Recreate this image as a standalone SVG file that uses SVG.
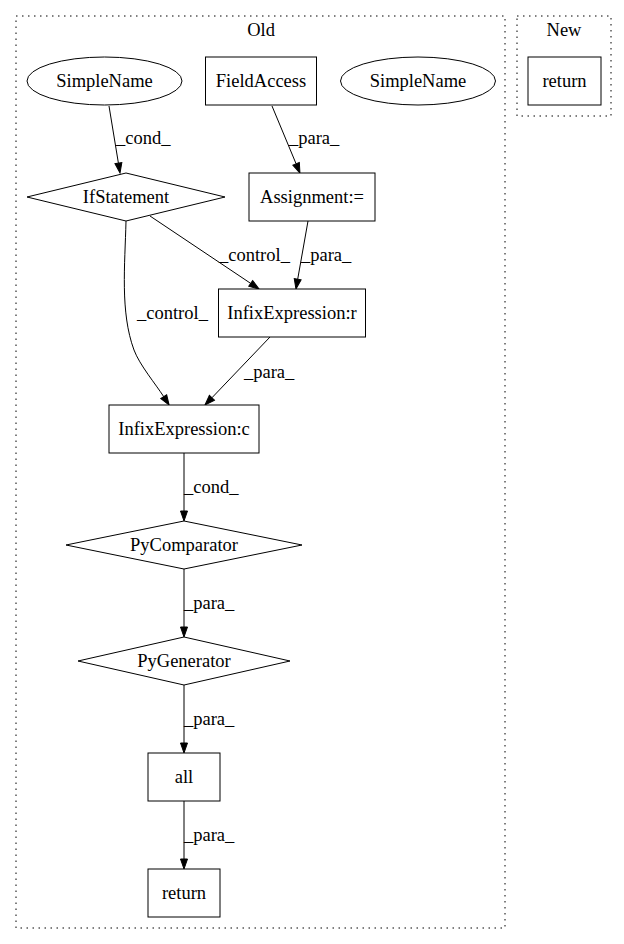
<svg xmlns="http://www.w3.org/2000/svg" width="624" height="944" viewBox="0 0 624 944">
<style>
text{font-family:"Liberation Serif","Times New Roman",serif;font-size:18.5px;fill:#000}
.n{text-anchor:middle}
.shape{fill:#fff;stroke:#000;stroke-width:1}
.cl{fill:none;stroke:#000;stroke-width:1;stroke-dasharray:1.5,4.5}
.e{fill:none;stroke:#000;stroke-width:1}
</style>
<defs>
<marker id="ah" markerUnits="userSpaceOnUse" markerWidth="11" markerHeight="8" refX="0" refY="3.5" orient="auto" overflow="visible">
<path d="M0,0 L10,3.5 L0,7 z" fill="#000" stroke="#000" stroke-width="1"/>
</marker>
</defs>
<rect width="624" height="944" fill="#fff"/>
<g font-family="Liberation Serif, Times New Roman, serif" font-size="18.5">
<g id="cluster_old">
<rect class="cl" x="16" y="16" width="489" height="912"/>
<text class="n" x="261" y="36">Old</text>
</g>
<g id="cluster_new">
<rect class="cl" x="517" y="16" width="94" height="100"/>
<text class="n" x="564" y="36">New</text>
</g>
<g id="connectors">
<path class="e" d="M109,106 L118.4,163.1" marker-end="url(#ah)"/>
<text x="116" y="144">_cond_</text>
<path class="e" d="M272,106 L296.1,163.8" marker-end="url(#ah)"/>
<text x="289" y="144">_para_</text>
<path class="e" d="M150,216 L250.7,283.4" marker-end="url(#ah)"/>
<text x="219" y="261">_control_</text>
<path class="e" d="M308,221 L297.7,279.2" marker-end="url(#ah)"/>
<text x="301" y="261">_para_</text>
<path class="e" d="M126,221 C125,265 120,312 134,350 C139.6,365 155.6,384 163.7,396.6" marker-end="url(#ah)"/>
<text x="137" y="319">_control_</text>
<path class="e" d="M270,337 L211.9,397.8" marker-end="url(#ah)"/>
<text x="244" y="378">_para_</text>
<path class="e" d="M184,453 L184,511" marker-end="url(#ah)"/>
<text x="184" y="493">_cond_</text>
<path class="e" d="M184,569 L184,627" marker-end="url(#ah)"/>
<text x="184" y="609">_para_</text>
<path class="e" d="M184,685 L184,743" marker-end="url(#ah)"/>
<text x="184" y="725">_para_</text>
<path class="e" d="M184,801 L184,859" marker-end="url(#ah)"/>
<text x="184" y="841">_para_</text>
</g>
<g id="SimpleName1">
<ellipse class="shape" cx="104.5" cy="81" rx="77.5" ry="24"/>
<text class="n" x="104.5" y="87">SimpleName</text>
</g>
<g id="FieldAccess">
<rect class="shape" x="205.5" y="57" width="111" height="48"/>
<text class="n" x="261" y="87">FieldAccess</text>
</g>
<g id="SimpleName2">
<ellipse class="shape" cx="418" cy="81" rx="77.5" ry="24"/>
<text class="n" x="418" y="87">SimpleName</text>
</g>
<g id="return_new">
<rect class="shape" x="528" y="57" width="73" height="48"/>
<text class="n" x="564.5" y="87">return</text>
</g>
<g id="IfStatement">
<polygon class="shape" points="126,173 225,197 126,221 27,197"/>
<text class="n" x="126" y="203">IfStatement</text>
</g>
<g id="Assignment">
<rect class="shape" x="249" y="173" width="126" height="48"/>
<text class="n" x="312" y="203">Assignment:=</text>
</g>
<g id="InfixExpressionR">
<rect class="shape" x="218.5" y="289" width="147" height="48"/>
<text class="n" x="292" y="319">InfixExpression:r</text>
</g>
<g id="InfixExpressionC">
<rect class="shape" x="109" y="405" width="150" height="48"/>
<text class="n" x="184" y="435">InfixExpression:c</text>
</g>
<g id="PyComparator">
<polygon class="shape" points="184,521 302,545 184,569 66,545"/>
<text class="n" x="184" y="551">PyComparator</text>
</g>
<g id="PyGenerator">
<polygon class="shape" points="184,637 290,661 184,685 78,661"/>
<text class="n" x="184" y="667">PyGenerator</text>
</g>
<g id="all">
<rect class="shape" x="148" y="753" width="72" height="48"/>
<text class="n" x="184" y="783">all</text>
</g>
<g id="return_old">
<rect class="shape" x="148" y="869" width="72" height="48"/>
<text class="n" x="184" y="899">return</text>
</g>
</g>
</svg>
